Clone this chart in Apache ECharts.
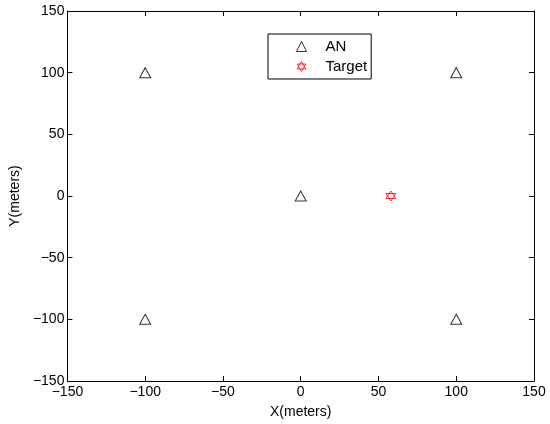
<!DOCTYPE html>
<html><head><meta charset="utf-8">
<script src="https://cdn.jsdelivr.net/npm/echarts@6/dist/echarts.min.js"></script>
<style>html,body{margin:0;padding:0;background:#fff}#c{width:550px;height:424px}</style>
</head><body><div id="c"></div>
<script>
const anX = [-100, 100, 0, -100, 100];
const anY = [100, 100, 0, -100, -100];
const targetX = [58];
const targetY = [0];
const ticks = [-150, -100, -50, 0, 50, 100, 150];

const hexagram = 'path://M0,-10L8.66,5L-8.66,5Z M0,10L-8.66,-5L8.66,-5Z';
const fmt = v => String(v).replace('-', '\u2212');
const font = 'Liberation Sans, Arial, Helvetica, sans-serif';
const chart = echarts.init(document.getElementById('c'));
const axisCommon = {
  min: -150, max: 150, interval: 50,
  axisLine: {onZero: false, lineStyle: {color: '#000', width: 1}},
  axisTick: {inside: true, length: 5, lineStyle: {color: '#000'}},
  splitLine: {show: false},
  nameTextStyle: {fontFamily: font, fontSize: 14, color: '#000'}
};
chart.setOption({
  animation: false,
  backgroundColor: '#fff',
  grid: {left: 63, right: 16, top: 11, bottom: 43, containLabel: false},
  xAxis: [
    Object.assign({}, axisCommon, {type: 'value', position: 'bottom', name: 'X(meters)', nameLocation: 'middle', nameGap: 24,
      axisLabel: {formatter: fmt, fontFamily: font, fontSize: 14, color: '#000', margin: 4}}),
    Object.assign({}, axisCommon, {type: 'value', position: 'top', axisLabel: {show: false}})
  ],
  yAxis: [
    Object.assign({}, axisCommon, {type: 'value', position: 'left', name: 'Y(meters)', nameLocation: 'middle', nameGap: 45,
      axisLabel: {formatter: fmt, fontFamily: font, fontSize: 14, color: '#000', margin: 3}}),
    Object.assign({}, axisCommon, {type: 'value', position: 'right', axisLabel: {show: false}})
  ],
  legend: {
    left: 268, top: 34, orient: 'vertical',
    backgroundColor: '#fff', borderColor: '#000', borderWidth: 1, borderRadius: 0,
    padding: [5, 4, 5, 26], itemGap: 5, itemWidth: 10, itemHeight: 10,
    itemStyle: {borderWidth: 1},
    textStyle: {fontFamily: font, fontSize: 15, color: '#000', padding: [0, 0, 0, 14]},
    data: [{name: 'AN', icon: 'triangle'}, {name: 'Target', icon: hexagram}]
  },
  series: [
    {name: 'AN', type: 'scatter', symbol: 'triangle', symbolSize: [11, 10],
     itemStyle: {color: 'none', borderColor: '#000', borderWidth: 1},
     data: anX.map((x, i) => [x, anY[i]])},
    {name: 'Target', type: 'scatter', symbol: hexagram, symbolSize: 10,
     itemStyle: {color: 'none', borderColor: '#f00', borderWidth: 1},
     data: targetX.map((x, i) => [x, targetY[i]])}
  ]
});
</script></body></html>
